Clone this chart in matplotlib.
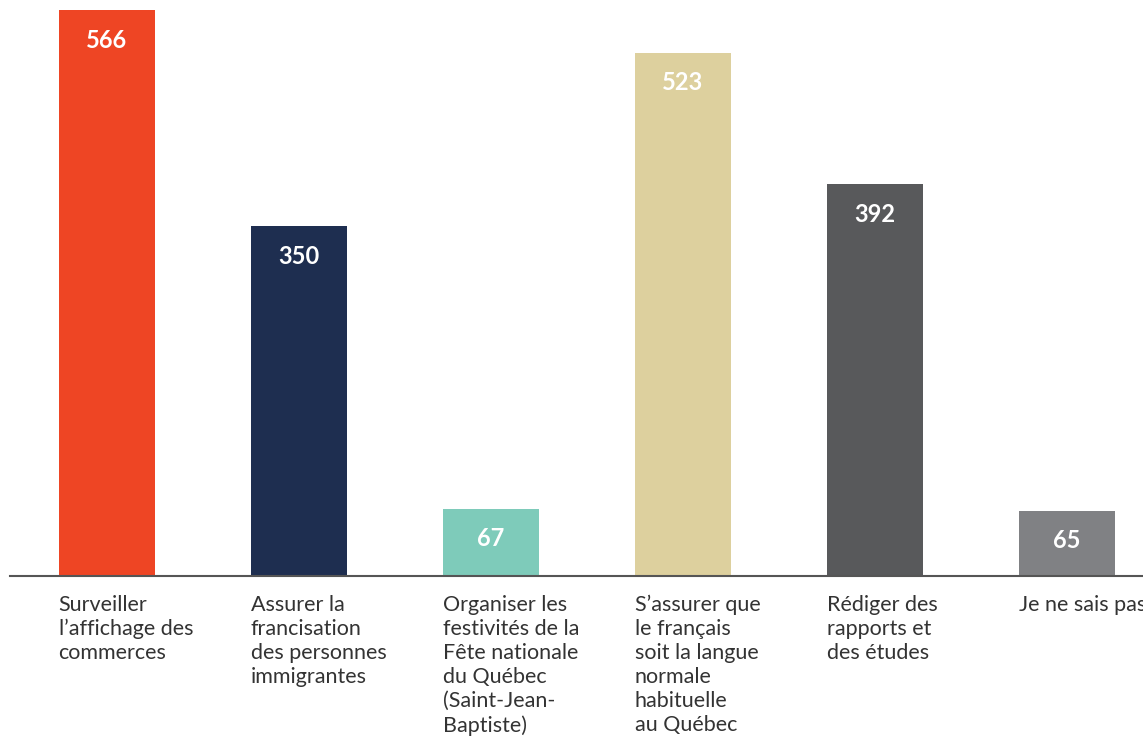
import matplotlib
matplotlib.use("Agg")
import matplotlib.pyplot as plt
from matplotlib.transforms import offset_copy

categories = [
    "Surveiller\nl’affichage des\ncommerces",
    "Assurer la\nfrancisation\ndes personnes\nimmigrantes",
    "Organiser les\nfestivités de la\nFête nationale\ndu Québec\n(Saint-Jean-\nBaptiste)",
    "S’assurer que\nle français\nsoit la langue\nnormale\nhabituelle\nau Québec",
    "Rédiger des\nrapports et\ndes études",
    "Je ne sais pas",
]
values = [566, 350, 67, 523, 392, 65]
colors = ["#EE4524", "#1E2E50", "#7ECBBA", "#DDD09E", "#58595B", "#808184"]

plt.rcParams['font.family'] = ['Lato', 'DejaVu Sans']

W, H = 1143, 736
fig = plt.figure(figsize=(W / 100, H / 100), dpi=100)
ax = fig.add_axes([10 / W, (H - 576) / H, (W - 10) / W, 576 / H])

x = list(range(len(values)))
width = 0.5
ax.bar(x, values, width=width, color=colors, zorder=2)

ax.set_xlim(-0.503, 5.398)
ax.set_ylim(0, 576)

for xi, v in zip(x, values):
    tr = offset_copy(ax.transData, fig=fig, x=0, y=-30, units='dots')
    ax.text(xi, v, str(v), transform=tr, ha='center', va='center',
            color='white', fontsize=17, fontweight='bold', zorder=3)
    tr2 = offset_copy(ax.transData, fig=fig, x=0, y=-19, units='dots')
    ax.text(xi - width / 2, 0, categories[xi], transform=tr2, ha='left', va='top',
            color='#333333', fontsize=15.5, linespacing=1.25, clip_on=False)

for s in ['top', 'right', 'left']:
    ax.spines[s].set_visible(False)
ax.spines['bottom'].set_color('#555555')
ax.spines['bottom'].set_linewidth(1.5)
ax.set_xticks([])
ax.set_yticks([])

fig.savefig("out.png", dpi=100)
